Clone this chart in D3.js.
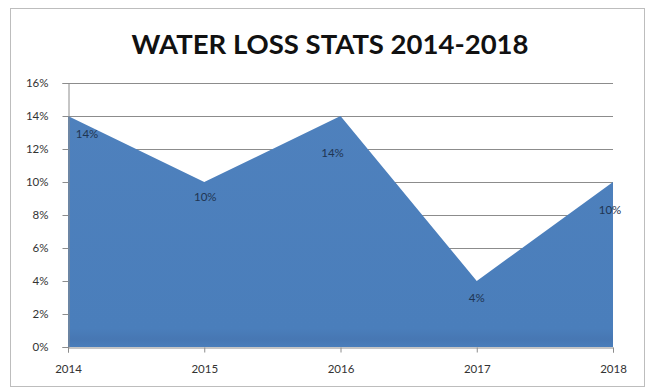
<!DOCTYPE html>
<html><head><meta charset="utf-8">
<script src="https://cdn.jsdelivr.net/npm/d3@7"></script>
<style>
html,body{margin:0;padding:0;background:#fff;}
svg{display:block;}
</style></head><body>
<svg id="c" width="647" height="388"></svg>
<script>
const years = ["2014","2015","2016","2017","2018"];
const lossPct = [14, 10, 14, 4, 10];
const yTicks = [0, 2, 4, 6, 8, 10, 12, 14, 16];
const titleText = "WATER LOSS STATS 2014-2018";

const svg = d3.select("#c");
const W = 647, H = 388;
const m = {left: 68, right: 34, top: 83, bottom: 41};
const x = d3.scalePoint().domain(years).range([m.left, W - m.right]);
const y = d3.scaleLinear().domain([0, 16]).range([H - m.bottom, m.top]);

// outer border
svg.append("rect").attr("x", 10.5).attr("y", 8.5).attr("width", 634).attr("height", 378)
  .attr("fill", "#fff").attr("stroke", "#bdbdbd").attr("stroke-width", 1);

// title
svg.append("text").attr("x", 330).attr("y", 54).attr("text-anchor", "middle")
  .attr("font-family", "Lato, 'Open Sans', sans-serif").attr("font-weight", "bold")
  .attr("font-size", 27.5).attr("fill", "#111").text(titleText);

// gridlines
svg.append("g").selectAll("line").data(yTicks.filter(d => d > 0)).join("line")
  .attr("x1", m.left).attr("x2", W - m.right)
  .attr("y1", d => Math.round(y(d)) + 0.5).attr("y2", d => Math.round(y(d)) + 0.5)
  .attr("stroke", "#8c8c8c").attr("stroke-width", 1);

// gradient for area
const defs = svg.append("defs");
const g = defs.append("linearGradient").attr("id", "ag").attr("x1", 0).attr("x2", 0)
  .attr("gradientUnits", "userSpaceOnUse").attr("y1", m.top).attr("y2", H - m.bottom);
g.append("stop").attr("offset", "0").attr("stop-color", "#4f81bd");
g.append("stop").attr("offset", "0.93").attr("stop-color", "#4a7ebb");
g.append("stop").attr("offset", "0.97").attr("stop-color", "#4777b3");
g.append("stop").attr("offset", "1").attr("stop-color", "#4a7ebb");

const area = d3.area().x((d, i) => x(years[i])).y0(y(0)).y1(d => y(d));
svg.append("path").datum(lossPct).attr("d", area).attr("fill", "url(#ag)");

// axes
const yAxis = d3.axisLeft(y).tickValues(yTicks).tickFormat(d => d + "%").tickSize(6).tickPadding(14);
const ya = svg.append("g").attr("transform", `translate(${m.left + 0.5},0)`).call(yAxis);
ya.select(".domain").attr("stroke", "#8c8c8c");
ya.selectAll(".tick line").attr("stroke", "#8c8c8c");
ya.selectAll("text").attr("font-family", "Lato, 'Open Sans', sans-serif").attr("font-size", 11.5).attr("fill", "#333");

const xAxis = d3.axisBottom(x).tickSize(5).tickPadding(12);
const xa = svg.append("g").attr("transform", `translate(0,${y(0) + 0.5})`).call(xAxis);
xa.select(".domain").attr("stroke", "#8c8c8c");
xa.selectAll(".tick line").attr("stroke", "#8c8c8c");
xa.selectAll("text").attr("font-family", "Lato, 'Open Sans', sans-serif").attr("font-size", 11.5).attr("fill", "#333");

// data labels
const lblOff = [[19, 22], [1, 19], [-8, 41], [0, 21], [-3, 32]];
svg.append("g").selectAll("text").data(lossPct).join("text")
  .attr("x", (d, i) => x(years[i]) + lblOff[i][0])
  .attr("y", (d, i) => y(d) + lblOff[i][1])
  .attr("text-anchor", "middle")
  .attr("font-family", "Lato, 'Open Sans', sans-serif").attr("font-size", 11.5)
  .attr("fill", "#1f3552").text(d => d + "%");
</script>
</body></html>
